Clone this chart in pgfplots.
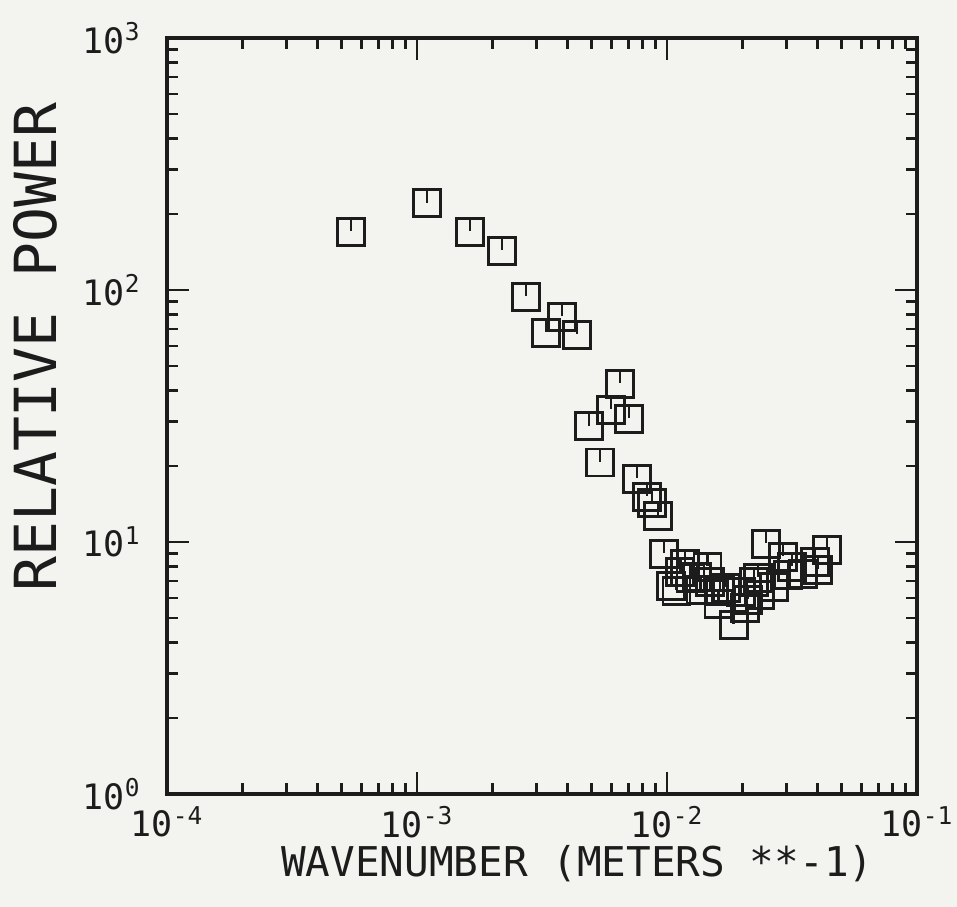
\documentclass[border=0pt]{standalone}
\usepackage{fontspec}
\setmainfont{DejaVu Sans Mono}
\usepackage{pgfplots}
\pgfplotsset{compat=1.18}
\usetikzlibrary{backgrounds}
\definecolor{ink}{RGB}{28,28,28}
\definecolor{paper}{RGB}{243,243,240}
\pgfdeclareplotmark{usq}{%
  \pgfpathrectangle{\pgfpoint{-\pgfplotmarksize}{-\pgfplotmarksize}}{\pgfpoint{2\pgfplotmarksize}{2\pgfplotmarksize}}%
  \pgfpathmoveto{\pgfpoint{0pt}{\pgfplotmarksize}}%
  \pgfpathlineto{\pgfpoint{0pt}{0.05\pgfplotmarksize}}%
  \pgfusepathqstroke}
\begin{document}
\begin{tikzpicture}
\begin{axis}[name=ax, scale only axis, width=375pt, height=378pt,
  xmode=log, ymode=log, xmin=1e-4, xmax=1e-1, ymin=1, ymax=1e3,
  axis line style={ink, line width=1.6pt},
  every tick/.style={ink, line width=1.3pt},
  major tick length=11pt, minor tick length=5.5pt,
  xtick pos=both, ytick pos=both,
  xtick={1e-4,1e-3,1e-2,1e-1},
  xticklabels={10\textsuperscript{-4},10\textsuperscript{-3},10\textsuperscript{-2},10\textsuperscript{-1}},
  ytick={1,10,100,1000},
  yticklabels={10\textsuperscript{0},10\textsuperscript{1},10\textsuperscript{2},10\textsuperscript{3}},
  ticklabel style={font=\fontsize{17.5pt}{17.5pt}\selectfont, text=ink, inner sep=1pt},
  yticklabel style={xshift=-12pt},
  xticklabel style={yshift=-5pt},
  every axis x label/.style={at={(axis description cs:0.547,-0.092)}, anchor=center, font=\fontsize{20.5pt}{20.5pt}\selectfont, text=ink, inner sep=0pt},
  every axis y label/.style={at={(axis description cs:-0.175,0.591)}, anchor=center, rotate=90, font=\fontsize{29pt}{29pt}\selectfont, text=ink},
  xlabel={WAVENUMBER (METERS **-1)},
  ylabel={RELATIVE POWER},
]
\addplot[only marks, mark=usq, mark size=6.75pt, ink, mark options={line width=1.3pt}] coordinates {
(5.45e-4,170) (1.096e-3,221) (1.63e-3,170) (2.19e-3,143) (2.73e-3,93.8)
(3.80e-3,78.2) (3.28e-3,67.5) (4.37e-3,66.3)
(6.49e-3,42.4) (5.97e-3,33.4) (7.05e-3,30.8) (4.88e-3,28.8) (5.40e-3,20.7)
(7.59e-3,17.8) (8.32e-3,15.1) (8.71e-3,14.3) (9.20e-3,12.7)
(9.73e-3,8.96) (1.18e-2,8.19) (1.04e-2,6.68) (1.09e-2,6.40) (1.45e-2,7.96)
(1.32e-2,7.26) (1.63e-2,6.40) (1.61e-2,5.68) (1.85e-2,4.69) (2.23e-2,6.93)
(1.98e-2,6.34) (2.36e-2,6.17) (2.11e-2,5.89) (2.68e-2,6.63) (2.49e-2,9.82)
(2.91e-2,8.71) (3.16e-2,7.96) (3.50e-2,7.46) (3.91e-2,8.34) (4.37e-2,9.29)
(4.02e-2,7.74) (1.24e-2,7.19) (1.13e-2,7.60) (1.36e-2,6.46) (1.49e-2,6.93)
(2.31e-2,7.19) (2.05e-2,5.47) (3.05e-2,7.40) (1.72e-2,6.57)
};
\end{axis}
\pgfresetboundingbox
\path[use as bounding box] ([shift={(-83.5pt,-56.5pt)}]ax.south west) rectangle ([shift={(20pt,19pt)}]ax.north east);
\begin{pgfonlayer}{background}
\fill[paper] ([shift={(-83.5pt,-56.5pt)}]ax.south west) rectangle ([shift={(20pt,19pt)}]ax.north east);
\end{pgfonlayer}
\end{tikzpicture}
\end{document}
